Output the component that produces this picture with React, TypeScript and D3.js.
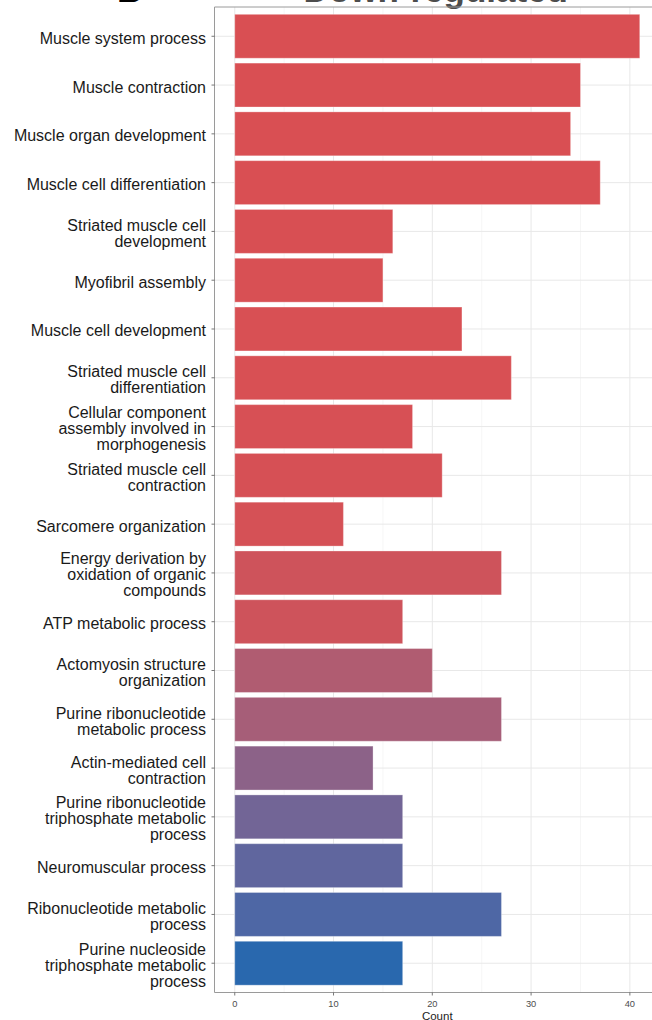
import React from "react";
import * as d3 from "d3";

const categories: string[] = [
  "Muscle system process",
  "Muscle contraction",
  "Muscle organ development",
  "Muscle cell differentiation",
  "Striated muscle cell\ndevelopment",
  "Myofibril assembly",
  "Muscle cell development",
  "Striated muscle cell\ndifferentiation",
  "Cellular component\nassembly involved in\nmorphogenesis",
  "Striated muscle cell\ncontraction",
  "Sarcomere organization",
  "Energy derivation by\noxidation of organic\ncompounds",
  "ATP metabolic process",
  "Actomyosin structure\norganization",
  "Purine ribonucleotide\nmetabolic process",
  "Actin-mediated cell\ncontraction",
  "Purine ribonucleotide\ntriphosphate metabolic\nprocess",
  "Neuromuscular process",
  "Ribonucleotide metabolic\nprocess",
  "Purine nucleoside\ntriphosphate metabolic\nprocess",
];

const counts: number[] = [41, 35, 34, 37, 16, 15, 23, 28, 18, 21, 11, 27, 17, 20, 27, 14, 17, 17, 27, 17];

// adjusted p-value (x 1e-4), drives the fill colour
const pAdjust: number[] = [0.1, 0.1, 0.1, 0.12, 0.15, 0.2, 0.2, 0.22, 0.3, 0.35, 0.45, 1.0, 1.0, 3.4, 4.1, 5.9, 7.4, 8.3, 9.0, 10];

const xTicks: number[] = [0, 10, 20, 30, 40];
const xMinorTicks: number[] = [5, 15, 25, 35];

const titleLetter = "B";
const titleText = "Down-regulated";
const xTitle = "Count";

export default function App() {
  const W = 652;
  const H = 1020;
  const panelLeft = 214.5;
  const panelRight = 660;
  const panelTop = 7;
  const panelBottom = 992.5;
  const font = "'Liberation Sans', Arial, Helvetica, sans-serif";

  const maxV = d3.max(counts) as number;
  const x = d3
    .scaleLinear()
    .domain([-0.05 * maxV, maxV * 1.05])
    .range([panelLeft, panelRight]);

  const y = d3
    .scalePoint<string>()
    .domain(categories)
    .range([panelTop, panelBottom])
    .padding(0.6);
  const step = y.step();
  const barH = step * 0.9;

  const color = d3
    .scaleLinear<string>()
    .domain([d3.min(pAdjust) as number, d3.max(pAdjust) as number])
    .range(["#D94F53", "#2968AE"])
    .interpolate(d3.interpolateLab);

  return (
    <svg
      width={W}
      height={H}
      style={{ position: "absolute", left: 0, top: 0, background: "#fff" }}
      fontFamily={font}
    >
      {/* titles (mostly clipped at the top, as in the reference) */}
      <text x={117} y={2} fontSize={35} fontWeight="bold" fill="#000">
        {titleLetter}
      </text>
      <text x={568} y={2} fontSize={35} fontWeight="bold" fill="#4D4D4D" textAnchor="end">
        {titleText}
      </text>

      {/* grid */}
      {xMinorTicks.map((t) => (
        <line key={"mn" + t} x1={x(t)} x2={x(t)} y1={panelTop} y2={panelBottom} stroke="#F2F2F2" strokeWidth={0.7} />
      ))}
      {xTicks.map((t) => (
        <line key={"mj" + t} x1={x(t)} x2={x(t)} y1={panelTop} y2={panelBottom} stroke="#E8E8E8" strokeWidth={1} />
      ))}
      {categories.map((c) => (
        <line key={"hg" + c} x1={panelLeft} x2={panelRight} y1={y(c)} y2={y(c)} stroke="#E8E8E8" strokeWidth={1} />
      ))}

      {/* bars */}
      {categories.map((c, i) => (
        <rect
          key={"b" + c}
          x={x(0)}
          y={(y(c) as number) - barH / 2}
          width={x(counts[i]) - x(0)}
          height={barH}
          fill={color(pAdjust[i])}
          stroke="#ffffff"
          strokeOpacity={0.3}
          strokeWidth={1}
        />
      ))}

      {/* panel border */}
      <line x1={panelLeft} x2={panelRight} y1={panelTop} y2={panelTop} stroke="#9A9A9A" strokeWidth={1} />
      <line x1={panelLeft} x2={panelLeft} y1={panelTop} y2={panelBottom} stroke="#9A9A9A" strokeWidth={1} />
      <line x1={panelLeft} x2={panelRight} y1={panelBottom} y2={panelBottom} stroke="#9A9A9A" strokeWidth={1} />

      {/* y axis ticks & labels */}
      {categories.map((c) => {
        const cy = y(c) as number;
        const lines = c.split("\n");
        const n = lines.length;
        return (
          <g key={"yl" + c}>
            <line x1={panelLeft - 3} x2={panelLeft} y1={cy} y2={cy} stroke="#555" strokeWidth={0.8} />
            <text textAnchor="end" fontSize={16} fill="#1A1A1A">
              {lines.map((l, k) => (
                <tspan key={k} x={206} y={cy + 7.5 + (k - (n - 1) / 2) * 16}>
                  {l}
                </tspan>
              ))}
            </text>
          </g>
        );
      })}

      {/* x axis ticks & labels */}
      {xTicks.map((t) => (
        <g key={"xt" + t}>
          <line x1={x(t)} x2={x(t)} y1={panelBottom} y2={panelBottom + 3} stroke="#555" strokeWidth={0.8} />
          <text x={x(t)} y={1006.5} fontSize={9.3} fill="#4D4D4D" textAnchor="middle">
            {t}
          </text>
        </g>
      ))}
      <text x={(panelLeft + panelRight) / 2} y={1019.5} fontSize={11.5} fill="#222" textAnchor="middle">
        {xTitle}
      </text>
    </svg>
  );
}
